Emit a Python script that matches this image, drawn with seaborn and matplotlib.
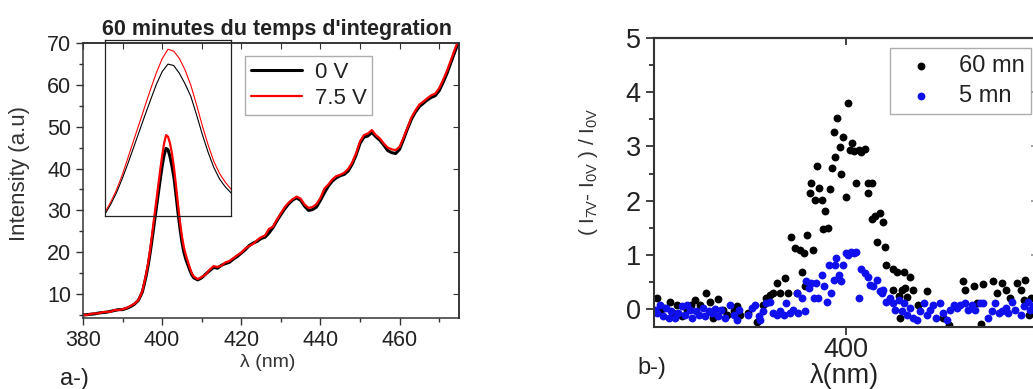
import pandas as pd
import matplotlib
matplotlib.use('Agg')
import matplotlib.pyplot as plt
from matplotlib.ticker import MultipleLocator, FixedLocator
import seaborn as sns

# ---- panel a-) : spectra, 60 min integration ----
wavelength = (
    [380, 381, 382, 383, 384, 385, 386, 387, 388, 389, 390, 391, 392, 393]
    + [394, 394.5, 395, 395.5, 396, 396.5, 397, 397.5, 398, 398.5, 399, 399.5,
       400, 400.5, 401, 401.5, 402, 402.5, 403, 403.5, 404, 404.5, 405, 405.5,
       406, 406.5, 407, 407.5, 408]
    + [409, 410, 411, 412, 413, 414, 415, 416, 417, 418, 419, 420, 421, 422,
       423, 424, 425, 426, 427, 428, 429, 430, 431, 432, 433, 434, 435, 436,
       437, 438, 439, 440, 441, 442, 443, 444, 445, 446, 447, 448, 449, 450,
       451, 452, 453, 454, 455, 456, 457, 458, 459, 460, 461, 462, 463, 464,
       465, 466, 467, 468, 469, 470, 471, 472, 473, 474, 475]
)
intensity_0v = (
    [5.0, 5.1, 5.2, 5.3, 5.5, 5.6, 5.7, 5.9, 6.1, 6.3, 6.3, 6.6, 7.0, 7.6]
    + [8.5, 9.5, 10.5, 12.4, 14.5, 17.0, 20.0, 23.3, 26.8, 30.3, 33.8, 37.2,
       40.5, 43.2, 44.8, 44.5, 42.8, 40.5, 37.8, 33.8, 29.6, 25.8, 22.5, 20.0,
       18.3, 17.0, 15.7, 14.6, 13.9]
    + [13.4, 13.9, 14.8, 15.6, 16.4, 16.2, 16.9, 17.3, 17.6, 18.4, 19.0, 19.8,
       20.6, 21.6, 22.2, 22.6, 23.3, 23.6, 24.6, 25.9, 27.5, 29.0, 30.4, 31.6,
       32.5, 33.0, 32.4, 31.0, 30.0, 30.2, 30.8, 32.4, 34.2, 35.8, 37.0, 37.8,
       38.3, 38.6, 39.4, 41.0, 43.2, 46.0, 47.5, 47.8, 48.6, 47.6, 46.8, 45.6,
       44.3, 43.8, 43.6, 44.6, 47.0, 49.5, 51.8, 53.5, 54.8, 55.6, 56.4, 57.0,
       57.4, 58.6, 60.6, 62.8, 65.4, 68.0, 70.5]
)
intensity_75v = (
    [5.1, 5.0, 5.3, 5.4, 5.4, 5.7, 5.8, 5.8, 6.2, 6.2, 6.4, 6.7, 7.2, 7.7]
    + [8.6, 9.6, 10.7, 12.8, 15.0, 17.6, 20.8, 24.5, 28.3, 32.0, 35.8, 39.5,
       43.0, 46.0, 48.0, 47.6, 46.0, 43.5, 40.2, 36.0, 31.5, 27.4, 23.8, 21.2,
       19.3, 17.8, 16.3, 15.0, 14.2]
    + [13.6, 14.1, 14.7, 15.8, 16.7, 16.5, 16.8, 17.6, 17.9, 18.6, 19.3, 19.9,
       20.9, 21.5, 22.0, 22.9, 23.6, 24.0, 25.6, 26.1, 27.8, 29.3, 30.8, 31.9,
       32.7, 33.3, 32.8, 31.4, 30.6, 30.8, 31.5, 33.0, 35.2, 36.2, 37.4, 38.2,
       38.5, 39.0, 39.9, 41.4, 43.6, 46.5, 48.0, 48.4, 49.2, 48.0, 47.2, 46.0,
       45.0, 44.6, 44.4, 45.2, 47.4, 49.8, 52.2, 53.9, 55.3, 56.0, 56.8, 57.5,
       57.9, 59.2, 61.2, 63.4, 66.0, 68.6, 71.0]
)

# ---- panel b-) : (I7V - I0V) / I0V ----
wl_60mn = [380.3, 380.6, 381.1, 381.7, 382.0, 382.4, 382.9, 383.4, 383.9, 384.3,
           384.8, 385.4, 385.8, 386.2, 386.7, 387.2, 387.6, 388.3, 388.6, 389.0,
           389.8, 390.7, 391.4, 391.7, 392.1, 392.4, 392.8, 393.1, 393.6, 394.0,
           394.3, 394.7, 394.9, 395.2, 395.6, 395.4, 395.7, 395.9, 396.2, 396.4,
           396.6, 396.8, 397.0, 397.2, 397.5, 397.8, 397.6, 398.1, 398.3, 398.5,
           398.75, 398.9, 399.1, 399.4, 399.5, 399.7, 400.0, 400.2, 400.6, 400.4,
           400.8, 401.0, 401.3, 401.6, 402.0, 402.3, 402.3, 402.7, 402.7, 403.0,
           403.5, 403.8, 403.2, 404.1, 404.2, 404.9, 405.3, 406.0, 406.7, 407.0,
           404.9, 405.5, 405.8, 406.1, 406.3, 405.6, 407.5, 408.4, 410.1, 410.7,
           412.2, 412.4, 413.3, 413.6, 414.0, 414.3, 415.3, 415.7, 416.2, 416.6,
           417.1, 417.8, 418.2, 418.6, 418.5, 419.0, 419.3]
rel_60mn = [0.21, -0.04, 0.02, 0.14, -0.07, 0.08, -0.13, -0.01, 0.08, 0.17,
            0.08, 0.29, 0.14, -0.17, 0.18, -0.01, -0.10, -0.04, 0.05, -0.10,
            -0.07, -0.23, 0.08, 0.20, 0.26, 0.29, 0.48, 0.29, 0.57, 0.29,
            1.33, 1.12, 0.29, 1.09, 1.03, 0.69, 0.42, 1.37, 2.15, 2.33,
            1.09, 2.01, 2.64, 2.24, 2.01, 1.81, 1.47, 1.50, 2.21, 2.60,
            3.27, 2.81, 3.52, 2.99, 2.50, 3.18, 2.06, 3.80, 3.07, 2.93,
            2.92, 2.33, 2.93, 2.90, 2.96, 2.15, 2.32, 2.33, 1.67, 1.71,
            1.77, 1.61, 1.23, 1.14, 0.82, 0.74, 0.69, 0.69, 0.60, 0.36,
            0.36, 0.25, 0.36, 0.39, 0.23, -0.17, 0.08, 0.34, -0.17, -0.29,
            0.51, 0.36, 0.42, 0.11, -0.27, 0.46, 0.51, 0.29, 0.48, 0.36,
            0.20, 0.48, 0.36, 0.54, 0.17, -0.10, 0.20]
wl_5mn = [380.1, 380.3, 380.6, 381.0, 381.3, 381.6, 381.8, 382.2, 382.5, 382.9,
          383.2, 383.4, 383.8, 384.0, 384.4, 384.7, 385.1, 385.3, 385.7, 386.0,
          386.4, 386.7, 387.0, 387.4, 387.9, 388.3, 388.6, 388.9, 389.8, 390.2,
          390.5, 390.9, 391.0, 391.4, 391.7, 392.1, 392.4, 392.8, 393.1, 393.5,
          393.8, 394.2, 394.5, 394.9, 395.0, 395.4, 395.7, 395.8, 396.1, 396.4,
          396.7, 396.9, 397.1, 397.5, 397.7, 398.0, 398.2, 398.4, 398.7, 398.9,
          399.0, 399.3, 399.5, 399.7, 400.0, 400.2, 400.5, 400.8, 401.0, 401.3,
          401.6, 402.0, 402.3, 402.5, 402.8, 403.2, 403.5, 403.7, 403.9, 404.2,
          404.6, 404.9, 405.1, 405.5, 405.8, 406.0, 406.3, 406.7, 407.0, 407.4,
          407.7, 408.1, 408.4, 408.75, 409.1, 409.4, 409.8, 410.1, 410.5, 410.8,
          411.2, 411.5, 411.9, 412.4, 412.7, 413.1, 413.4, 413.9, 414.3, 414.8,
          415.2, 415.5, 415.9, 416.2, 416.6, 416.9, 417.3, 417.6, 418.2, 418.5,
          418.9, 419.2, 419.5]
rel_5mn = [-0.01, -0.07, 0.08, -0.13, 0.02, -0.17, -0.04, -0.17, -0.07, 0.05,
           -0.10, 0.08, -0.01, -0.17, -0.04, -0.10, 0.02, -0.13, -0.04, -0.07,
           0.00, -0.13, -0.01, -0.17, 0.08, -0.10, -0.20, -0.01, -0.10, 0.02,
           0.08, -0.13, -0.20, -0.04, 0.11, 0.14, -0.07, -0.10, -0.04, -0.10,
           0.11, -0.07, -0.01, 0.29, -0.07, 0.20, -0.04, 0.51, 0.39, 0.48,
           0.20, 0.48, 0.20, 0.63, 0.42, 0.14, 0.82, 0.29, 0.54, 0.82,
           0.94, 0.63, 0.51, 0.82, 1.03, 1.00, 1.06, 1.03, 1.06, 0.20,
           0.74, 0.66, 0.60, 0.45, 0.42, 0.54, 0.33, 0.29, 0.36, 0.14,
           0.20, 0.11, -0.01, 0.17, -0.04, 0.11, -0.10, 0.02, -0.17, -0.20,
           -0.04, 0.11, -0.10, -0.01, 0.08, -0.17, 0.11, -0.07, -0.20, -0.01,
           0.08, 0.02, 0.08, 0.11, -0.01, 0.08, -0.01, 0.11, 0.12, -0.17,
           -0.04, 0.11, -0.07, -0.04, 0.02, -0.07, 0.14, -0.01, -0.10, 0.05,
           0.14, -0.01, 0.05]

spec = pd.DataFrame({'wl': wavelength, 'I0': intensity_0v, 'I75': intensity_75v})
pts60 = pd.DataFrame({'wl': wl_60mn, 'r': rel_60mn})
pts5 = pd.DataFrame({'wl': wl_5mn, 'r': rel_5mn})

sns.set_style('ticks')
plt.rcParams['font.family'] = ['Liberation Sans', 'DejaVu Sans']
plt.rcParams['mathtext.fontset'] = 'custom'
plt.rcParams['mathtext.rm'] = 'Liberation Sans'
plt.rcParams['mathtext.it'] = 'Liberation Sans:italic'
txt = '#222222'

fig = plt.figure(figsize=(10.33, 3.89), dpi=100)

# ---------- panel a ----------
ax1 = fig.add_axes([0.0803, 0.1825, 0.364, 0.707])
sns.lineplot(data=spec, x='wl', y='I0', ax=ax1, color='black', lw=2.2, label='0 V')
sns.lineplot(data=spec, x='wl', y='I75', ax=ax1, color='red', lw=1.6, label='7.5 V')
ax1.set_xlim(380, 475)
ax1.set_ylim(4.3, 70)
ax1.xaxis.set_major_locator(MultipleLocator(20))
ax1.xaxis.set_minor_locator(MultipleLocator(10))
ax1.yaxis.set_major_locator(FixedLocator([10, 20, 30, 40, 50, 60, 70]))
ax1.yaxis.set_minor_locator(MultipleLocator(5))
ax1.tick_params(which='both', direction='out', colors='#333333', labelcolor=txt,
                labelsize=15.5, width=1)
ax1.tick_params(which='major', length=5)
ax1.tick_params(which='minor', length=3)
for s in ax1.spines.values():
    s.set_linewidth(1.1)
    s.set_color('#333333')
top1 = ax1.secondary_xaxis('top')
top1.xaxis.set_major_locator(MultipleLocator(10))
top1.tick_params(axis='x', direction='in', length=4, labeltop=False, colors='#333333')
top1.spines['top'].set_linewidth(1.1)
right1 = ax1.secondary_yaxis('right')
right1.yaxis.set_major_locator(MultipleLocator(10))
right1.tick_params(axis='y', direction='in', length=4, labelright=False, colors='#333333')
right1.spines['right'].set_linewidth(1.1)
ax1.set_xlabel('λ (nm)', fontsize=14, color='#333333')
ax1.xaxis.set_label_coords(0.492, -0.13)
ax1.set_ylabel('Intensity (a.u)', fontsize=16, color='#333333')
ax1.yaxis.set_label_coords(-0.14, 0.524)
ax1.set_title("60 minutes du temps d'integration", fontsize=15.5,
              fontweight='bold', color=txt, pad=6, x=0.517)
leg1 = ax1.legend(loc='upper left', bbox_to_anchor=(0.2372, 0.856),
                  bbox_transform=fig.transFigure, fontsize=16, frameon=True,
                  fancybox=False, edgecolor='#999999', handlelength=2.3,
                  handletextpad=0.6, borderpad=0.25, labelspacing=0.25,
                  borderaxespad=0)
for t in leg1.get_texts():
    t.set_color(txt)

# inset: zoom on the 400 nm peak
ins = fig.add_axes([0.1016, 0.4447, 0.122, 0.4524])
ins.set_facecolor('none')
sns.lineplot(data=spec, x='wl', y='I0', ax=ins, color='black', lw=0.8)
sns.lineplot(data=spec, x='wl', y='I75', ax=ins, color='red', lw=0.8)
ins.set_xlim(395.5, 406.5)
ins.set_ylim(12, 50)
ins.set_xticks([])
ins.set_yticks([])
ins.set_xlabel('')
ins.set_ylabel('')
for s in ins.spines.values():
    s.set_linewidth(0.9)
    s.set_color('#222222')

fig.text(60 / 1033, 1 - 379 / 389, 'a-)', fontsize=17, color=txt,
         ha='left', va='center')

# ---------- panel b ----------
ax2 = fig.add_axes([0.633, 0.1594, 0.372, 0.7429])
sns.scatterplot(data=pts60, x='wl', y='r', ax=ax2, color='black', s=32,
                linewidth=0, label='60 mn')
sns.scatterplot(data=pts5, x='wl', y='r', ax=ax2, color='#1010ee', s=32,
                linewidth=0, label='5 mn')
ax2.set_xlim(380, 420)
ax2.set_ylim(-0.33, 5)
ax2.xaxis.set_major_locator(FixedLocator([400]))
ax2.yaxis.set_major_locator(MultipleLocator(1))
ax2.yaxis.set_minor_locator(MultipleLocator(0.5))
ax2.tick_params(which='both', direction='out', colors='#333333', labelcolor=txt,
                labelsize=19.5, width=1.3)
ax2.tick_params(which='major', length=6)
ax2.tick_params(which='minor', length=3.5)
ax2.tick_params(axis='x', pad=1)
for s in ax2.spines.values():
    s.set_linewidth(1.5)
    s.set_color('#333333')
top2 = ax2.secondary_xaxis('top')
top2.xaxis.set_major_locator(FixedLocator([400]))
top2.tick_params(axis='x', direction='in', length=5, width=1.3, labeltop=False,
                 colors='#333333')
top2.spines['top'].set_linewidth(1.5)
right2 = ax2.secondary_yaxis('right')
right2.yaxis.set_major_locator(MultipleLocator(1))
right2.tick_params(axis='y', direction='in', length=5, width=1.3, labelright=False,
                   colors='#999999')
ax2.set_xlabel('λ(nm)', fontsize=19.5, color=txt)
ax2.xaxis.set_label_coords(0.497, -0.125)
ax2.set_ylabel(r'( I$_{\mathrm{7V}}$- I$_{\mathrm{0V}}$ ) / I$_{\mathrm{0V}}$',
               fontsize=15, color='#333333')
ax2.yaxis.set_label_coords(-0.14, 0.536)
leg2 = ax2.legend(loc='upper left', bbox_to_anchor=(0.8616, 0.8766),
                  bbox_transform=fig.transFigure, fontsize=17, frameon=True,
                  fancybox=False, edgecolor='#999999', handletextpad=0.6,
                  borderpad=0.3, labelspacing=0.35, borderaxespad=0,
                  markerscale=1.0)
for t in leg2.get_texts():
    t.set_color(txt)

fig.text(637 / 1033, 1 - 368 / 389, 'b-)', fontsize=17, color=txt,
         ha='left', va='center')

fig.savefig('out.png', dpi=100)
